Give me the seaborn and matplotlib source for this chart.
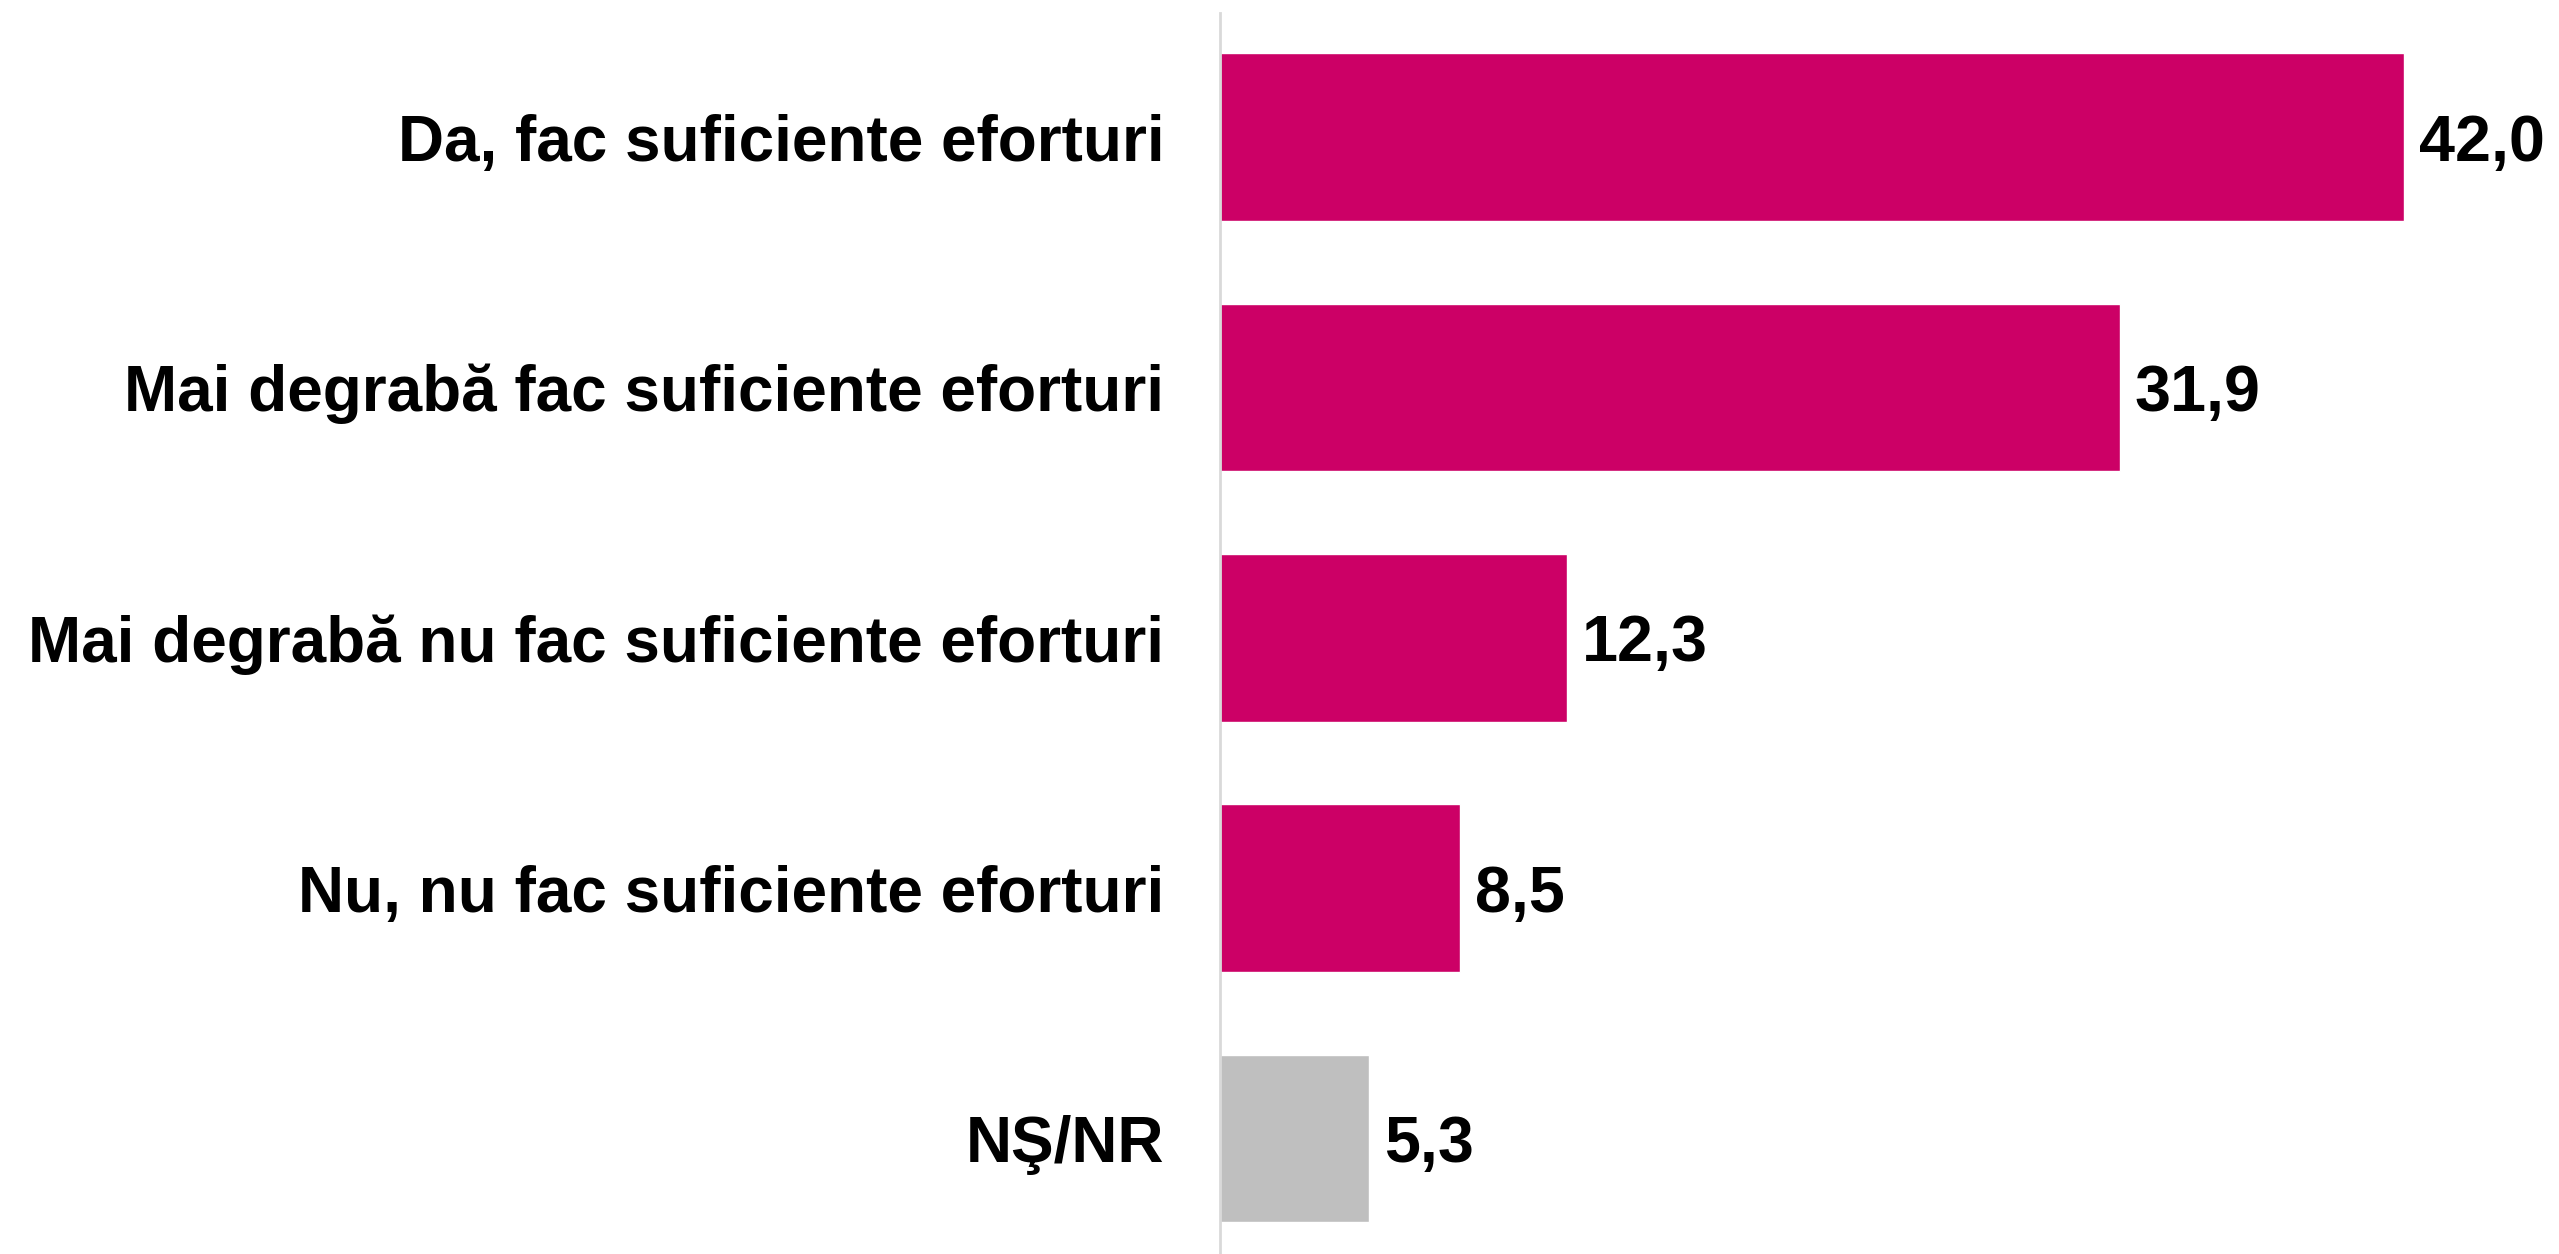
import matplotlib
matplotlib.use("Agg")
import matplotlib.pyplot as plt
import seaborn as sns
import pandas as pd

categories = [
    "Da, fac suficiente eforturi",
    "Mai degrabă fac suficiente eforturi",
    "Mai degrabă nu fac suficiente eforturi",
    "Nu, nu fac suficiente eforturi",
    "NŞ/NR",
]
values = [42.0, 31.9, 12.3, 8.5, 5.3]
bar_colors = ["#CC0066", "#CC0066", "#CC0066", "#CC0066", "#BFBFBF"]

df = pd.DataFrame({"cat": categories, "val": values})

sns.set_theme(style="white")
plt.rcParams["font.family"] = ["Liberation Sans", "DejaVu Sans"]

W, H = 2559, 1254
fig = plt.figure(figsize=(W / 100, H / 100), dpi=100)
left_px, top_px = 1220, 13
ax = fig.add_axes([left_px / W, 0, 1 - left_px / W, 1 - top_px / H])

sns.barplot(data=df, x="val", y="cat", hue="cat", palette=bar_colors,
            legend=False, width=0.67, saturation=1, ax=ax, orient="h")

px_per_unit = 28.2
ax.set_xlim(0, (W - left_px) / px_per_unit)
spacing = 250.4
first_center = 137
ax.set_ylim((H - first_center) / spacing, (top_px - first_center) / spacing)

# value labels: digits vertically centred on the bar
baseline_shift = 23.5 / spacing
for i, v in enumerate(values):
    ax.text(v + 15 / px_per_unit, i + baseline_shift, f"{v:.1f}".replace(".", ","),
            va="baseline", ha="left", fontsize=46.5, fontweight="bold", color="black")

ax.set_xlabel("")
ax.set_ylabel("")
ax.set_xticks([])
ax.tick_params(axis="y", length=0, pad=40)
for lbl in ax.get_yticklabels():
    lbl.set_fontsize(46)
    lbl.set_fontweight("bold")
    lbl.set_color("black")

for s in ["top", "right", "bottom"]:
    ax.spines[s].set_visible(False)
ax.spines["left"].set_color("#D9D9D9")
ax.spines["left"].set_linewidth(2)

fig.savefig("out.png", dpi=100, facecolor="white")
